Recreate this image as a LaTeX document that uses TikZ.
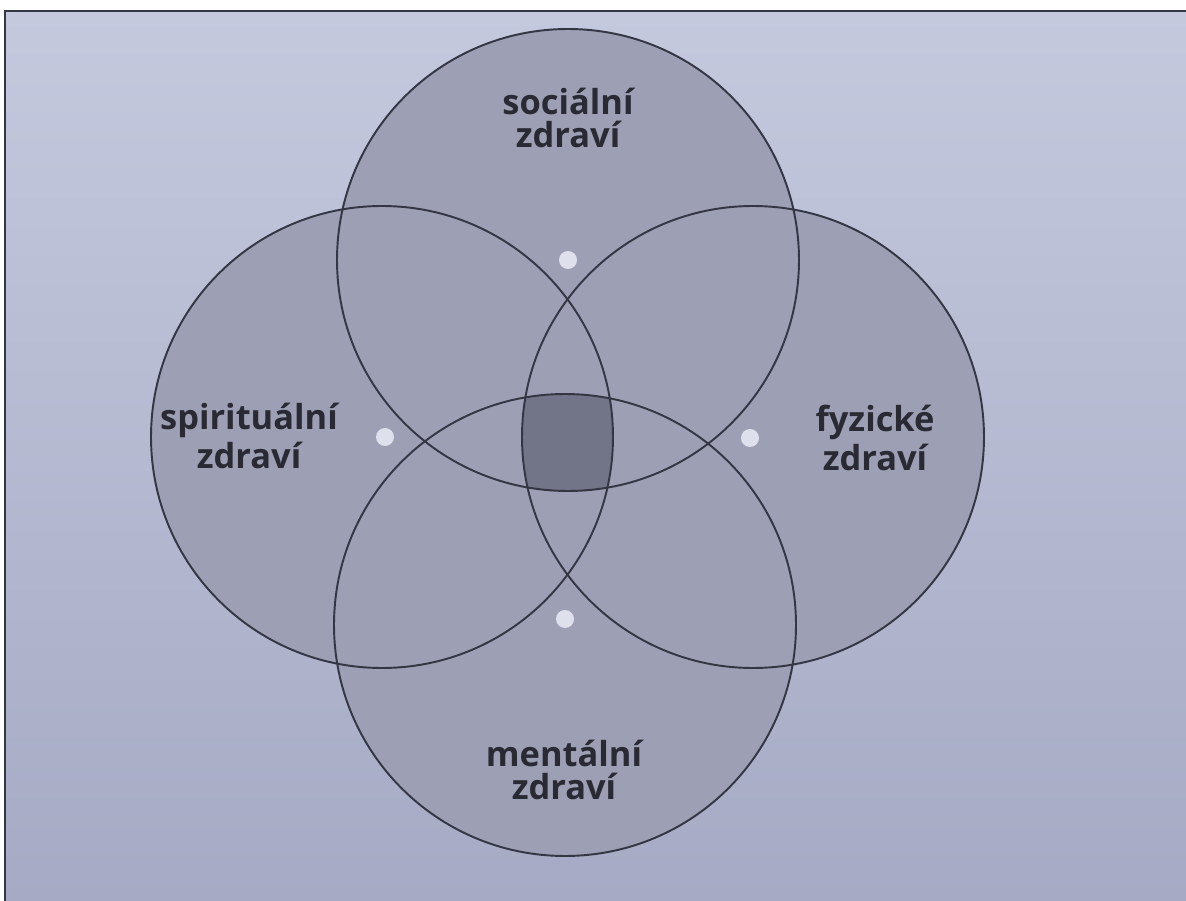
\documentclass[tikz,border=0pt]{standalone}
\usepackage{fontspec}
\setmainfont{Open Sans}
\usetikzlibrary{positioning}
\definecolor{hzpaper}{RGB}{196,201,222}
\definecolor{hzpaperdark}{RGB}{166,170,196}
\definecolor{hzfill}{RGB}{157,160,180}
\definecolor{hzcore}{RGB}{114,116,135}
\definecolor{hzline}{RGB}{52,54,68}
\definecolor{hzdot}{RGB}{222,225,236}
\definecolor{hztext}{RGB}{42,42,52}
\tikzset{
hzcircle/.style={circle,fill=hzfill,minimum size=4.62cm,inner sep=0pt},
hzrim/.style={draw=hzline,line width=0.55pt},
hzcentre/.style={circle,fill=hzdot,minimum size=0.18cm,inner sep=0pt},
hzlabel/.style={font=\fontsize{9.8}{9.4}\selectfont\bfseries,text=hztext,align=center,inner sep=0pt}
}

\begin{document}
\begin{tikzpicture}[
x=1cm,
y=1cm
]
\useasboundingbox (0,0) rectangle (11.86,-9.01);
\fill[white] (0,0) rectangle (11.86,-9.01);
\shade[top color=hzpaper,bottom color=hzpaperdark] (0.05,-0.11) rectangle (11.86,-9.01);
\draw[hzline,line width=0.7pt] (0.05,-9.01)--(0.05,-0.11)--(11.86,-0.11);
% the four circles
\node[hzcircle] (social) at (5.68,-2.60) {};
\node[hzcircle] (spirit) at (3.82,-4.37) {};
\node[hzcircle] (physic) at (7.53,-4.37) {};
\node[hzcircle] (mental) at (5.65,-6.25) {};
% core where all four meet
\begin{scope}
\clip (social.center) circle[radius=2.31];
\clip (spirit.center) circle[radius=2.31];
\clip (physic.center) circle[radius=2.31];
\fill[hzcore] (mental.center) circle[radius=2.31];
\end{scope}
\draw[hzrim] (social.center) circle[radius=2.31];
\draw[hzrim] (spirit.center) circle[radius=2.31];
\draw[hzrim] (physic.center) circle[radius=2.31];
\draw[hzrim] (mental.center) circle[radius=2.31];
\node[hzcentre] (socialdot) at (5.68,-2.60) {};
\node[hzcentre] (spiritdot) at (3.85,-4.37) {};
\node[hzcentre] (physicdot) at (7.50,-4.38) {};
\node[hzcentre] (mentaldot) at (5.65,-6.19) {};
% labels
\node[hzlabel] (sociallabel) at (5.68,-1.18) {sociální\\zdraví};
\node[hzlabel] (spiritlabel) at (2.49,-4.36) {spirituální\\zdraví};
\node[hzlabel] (physiclabel) at (8.75,-4.38) {fyzické\\zdraví};
\node[hzlabel] (mentallabel) at (5.64,-7.70) {mentální\\zdraví};
\end{tikzpicture}
\end{document}
